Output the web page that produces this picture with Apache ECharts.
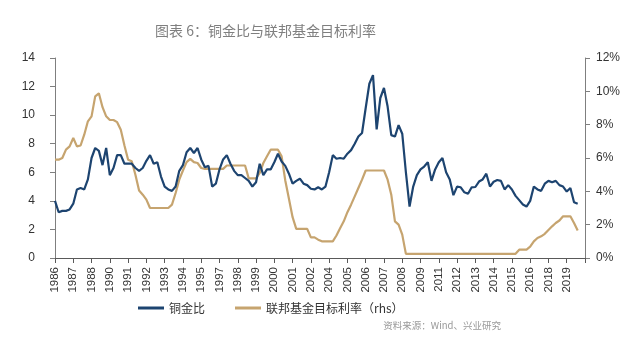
<!DOCTYPE html>
<html>
<head>
<meta charset="utf-8">
<script src="https://cdn.jsdelivr.net/npm/echarts@6/dist/echarts.min.js"></script>
<style>
  html, body { margin: 0; padding: 0; background: #fff; }
  #chart { width: 640px; height: 352px; }
</style>
</head>
<body>
<div id="chart"></div>
<script>
// tick labels on the x axis (one per tick), 5 samples per tick interval
var tickLabels = ['1986', '1987', '1988', '1990', '1991', '1992', '1993', '1994', '1995', '1997',
  '1998', '1999', '2000', '2001', '2002', '2004', '2005', '2006', '2007', '2008',
  '2009', '2011', '2012', '2013', '2014', '2015', '2016', '2018', '2019'];

// 铜金比 (left axis)
var copperGold = [
  4.0, 3.2, 3.3, 3.3, 3.4, 3.8, 4.8, 4.9, 4.8, 5.5,
  7.0, 7.7, 7.5, 6.5, 7.7, 5.8, 6.3, 7.2, 7.2, 6.6,
  6.6, 6.6, 6.3, 6.1, 6.3, 6.8, 7.2, 6.6, 6.7, 5.7,
  5.0, 4.8, 4.7, 5.0, 6.1, 6.5, 7.4, 7.7, 7.35, 7.7,
  6.9, 6.35, 6.45, 5.0, 5.2, 6.2, 6.9, 7.2, 6.6, 6.1,
  5.8, 5.8, 5.6, 5.4, 5.0, 5.3, 6.6, 5.8, 6.2, 6.2,
  6.7, 7.3, 6.75, 6.45, 5.9, 5.2, 5.4, 5.55, 5.2, 5.1,
  4.85, 4.8, 4.95, 4.8, 5.0, 6.0, 7.2, 6.95, 7.0, 6.95,
  7.3, 7.55, 8.0, 8.5, 8.75, 10.5, 12.2, 12.8, 9.0, 11.2,
  11.9, 10.6, 8.6, 8.5, 9.3, 8.7, 6.0, 3.6, 5.0, 5.8,
  6.2, 6.4, 6.7, 5.4, 6.2, 6.7, 7.0, 6.0, 5.5, 4.4,
  5.0, 4.95, 4.6, 4.5, 4.95, 4.97, 5.35, 5.5, 5.9, 5.0,
  5.34, 5.46, 5.4, 4.8, 5.1, 4.8, 4.35, 4.05, 3.75, 3.6,
  4.0, 5.0, 4.8, 4.7, 5.2, 5.4, 5.3, 5.4, 5.1, 5.0,
  4.65, 4.9, 3.9, 3.8
];

// 联邦基金目标利率, % (right axis)
var fedRate = [
  5.9, 5.9, 6.0, 6.5, 6.7, 7.2, 6.7, 6.75, 7.4, 8.2,
  8.5, 9.7, 9.88, 9.05, 8.5, 8.28, 8.28, 8.15, 7.7, 6.75,
  5.9, 5.8, 5.0, 4.05, 3.8, 3.5, 3.0, 3.0, 3.0, 3.0,
  3.0, 3.0, 3.2, 3.9, 4.7, 5.25, 5.75, 5.95, 5.75, 5.7,
  5.4, 5.35, 5.35, 5.35, 5.35, 5.35, 5.35, 5.55, 5.55, 5.55,
  5.55, 5.55, 5.55, 4.78, 4.78, 4.78, 5.1, 5.7, 6.1, 6.5,
  6.5, 6.5, 6.1, 4.65, 3.55, 2.45, 1.75, 1.75, 1.75, 1.75,
  1.24, 1.24, 1.1, 1.0, 1.0, 1.0, 1.0, 1.35, 1.78, 2.2,
  2.75, 3.2, 3.7, 4.2, 4.7, 5.25, 5.25, 5.25, 5.25, 5.25,
  5.25, 4.7, 3.8, 2.2, 2.0, 1.4, 0.25, 0.25, 0.25, 0.25,
  0.25, 0.25, 0.25, 0.25, 0.25, 0.25, 0.25, 0.25, 0.25, 0.25,
  0.25, 0.25, 0.25, 0.25, 0.25, 0.25, 0.25, 0.25, 0.25, 0.25,
  0.25, 0.25, 0.25, 0.25, 0.25, 0.25, 0.25, 0.5, 0.5, 0.5,
  0.68, 1.0, 1.2, 1.3, 1.45, 1.68, 1.9, 2.1, 2.25, 2.5,
  2.5, 2.5, 2.1, 1.65
];

var categories = [];
tickLabels.forEach(function(t) {
  categories.push(t, '', '', '', '');
});
categories.push('');

var blue = '#1d4470';
var tan = '#c6a46f';
var numFont = 'Liberation Sans';
var cjkFont = 'Noto Sans CJK SC';

var chart = echarts.init(document.getElementById('chart'), null, { renderer: 'canvas' });

chart.setOption({
  animation: false,
  backgroundColor: '#fff',
  title: [
    {
      text: '图表 6：铜金比与联邦基金目标利率',
      left: 150,
      top: 19,
      textStyle: { fontFamily: cjkFont, fontSize: 14, fontWeight: 'normal', color: '#7f7f7f' }
    },
    {
      text: '资料来源：Wind、兴业研究',
      right: 134,
      top: 316,
      textStyle: { fontFamily: cjkFont, fontSize: 9.5, fontWeight: 'normal', color: '#999' }
    }
  ],
  legend: {
    left: 133,
    top: 297,
    icon: 'rect',
    itemWidth: 26,
    itemHeight: 3,
    itemGap: 30,
    textStyle: { fontFamily: cjkFont, fontSize: 12, color: '#333' },
    data: ['铜金比', '联邦基金目标利率（rhs）']
  },
  grid: { left: 55, right: 55, top: 58, bottom: 94 },
  xAxis: {
    type: 'category',
    data: categories,
    boundaryGap: false,
    axisLine: { lineStyle: { color: '#595959', width: 1 } },
    axisTick: { interval: 4, length: 5, lineStyle: { color: '#595959' } },
    axisLabel: {
      interval: 4,
      rotate: 90,
      margin: 9,
      fontFamily: numFont,
      fontSize: 11.5,
      color: '#333'
    },
    splitLine: { show: false }
  },
  yAxis: [
    {
      type: 'value',
      min: 0,
      max: 14,
      interval: 2,
      axisLine: { show: true, lineStyle: { color: '#7f7f7f' } },
      axisTick: { show: true, length: 5, lineStyle: { color: '#7f7f7f' } },
      axisLabel: { margin: 20, fontFamily: numFont, fontSize: 12, color: '#333' },
      splitLine: { show: false }
    },
    {
      type: 'value',
      min: 0,
      max: 12,
      interval: 2,
      position: 'right',
      axisLine: { show: true, lineStyle: { color: '#7f7f7f' } },
      axisTick: { show: true, length: 5, lineStyle: { color: '#7f7f7f' } },
      axisLabel: { margin: 11, formatter: '{value}%', fontFamily: numFont, fontSize: 12, color: '#333' },
      splitLine: { show: false }
    }
  ],
  series: [
    {
      name: '铜金比',
      type: 'line',
      data: copperGold,
      yAxisIndex: 0,
      showSymbol: false,
      lineStyle: { color: blue, width: 2.2 },
      itemStyle: { color: blue },
      z: 3
    },
    {
      name: '联邦基金目标利率（rhs）',
      type: 'line',
      data: fedRate,
      yAxisIndex: 1,
      showSymbol: false,
      lineStyle: { color: tan, width: 2.2 },
      itemStyle: { color: tan },
      z: 2
    }
  ]
});
window.addEventListener('resize', function() { chart.resize(); });
</script>
</body>
</html>
